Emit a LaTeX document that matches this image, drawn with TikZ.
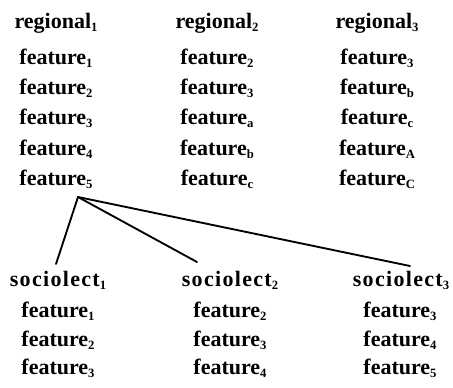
\documentclass[tikz,border=0pt]{standalone}
\usepackage{fontspec}
\setmainfont{Liberation Serif}
% lowered small index after a word
\newcommand{\ix}[1]{\raisebox{-2.6pt}{\fontsize{9.5}{10}\selectfont #1}}
\begin{document}
\begin{tikzpicture}[x=0.75pt,y=-0.75pt,
  every node/.style={anchor=base,inner sep=0pt,font=\fontsize{16.5}{18}\selectfont\bfseries},
  head/.style={},
  soc/.style={font=\fontsize{16.5}{18}\selectfont\bfseries\addfontfeature{LetterSpace=6}},
  link/.style={line width=1.4pt,line cap=round}]
\useasboundingbox (0,0) rectangle (453,387);

% regional varieties
\node (ra) at (56,28)  {regional\ix{1}};
\node (rb) at (217,28) {regional\ix{2}};
\node (rc) at (377,28) {regional\ix{3}};

\node (ra1) at (56,64)  {feature\ix{1}};
\node (ra2) at (56,94)  {feature\ix{2}};
\node (ra3) at (56,124) {feature\ix{3}};
\node (ra4) at (56,155) {feature\ix{4}};
\node (ra5) at (56,185) {feature\ix{5}};

\node (rb1) at (217,64)  {feature\ix{2}};
\node (rb2) at (217,94)  {feature\ix{3}};
\node (rb3) at (217,124) {feature\ix{a}};
\node (rb4) at (217,155) {feature\ix{b}};
\node (rb5) at (217,185) {feature\ix{c}};

\node (rc1) at (377,64)  {feature\ix{3}};
\node (rc2) at (377,94)  {feature\ix{b}};
\node (rc3) at (377,124) {feature\ix{c}};
\node (rc4) at (377,155) {feature\ix{A}};
\node (rc5) at (377,185) {feature\ix{C}};

% social varieties
\node[soc] (sa) at (58,286)  {sociolect\ix{1}};
\node[soc] (sb) at (230,286) {sociolect\ix{2}};
\node[soc] (sc) at (401,286) {sociolect\ix{3}};

\node (sa1) at (58,317) {feature\ix{1}};
\node (sa2) at (58,346) {feature\ix{2}};
\node (sa3) at (58,374) {feature\ix{3}};

\node (sb1) at (230,317) {feature\ix{2}};
\node (sb2) at (230,346) {feature\ix{3}};
\node (sb3) at (230,374) {feature\ix{4}};

\node (sc1) at (400,317) {feature\ix{3}};
\node (sc2) at (400,346) {feature\ix{4}};
\node (sc3) at (400,374) {feature\ix{5}};

% branching from feature_5
\coordinate (hub) at (78,197);
\coordinate (ta) at (56,264);
\coordinate (tb) at (197,262);
\coordinate (tc) at (410,266);
\draw[link] (hub) -- (ta);
\draw[link] (hub) -- (tb);
\draw[link] (hub) -- (tc);
\end{tikzpicture}
\end{document}
